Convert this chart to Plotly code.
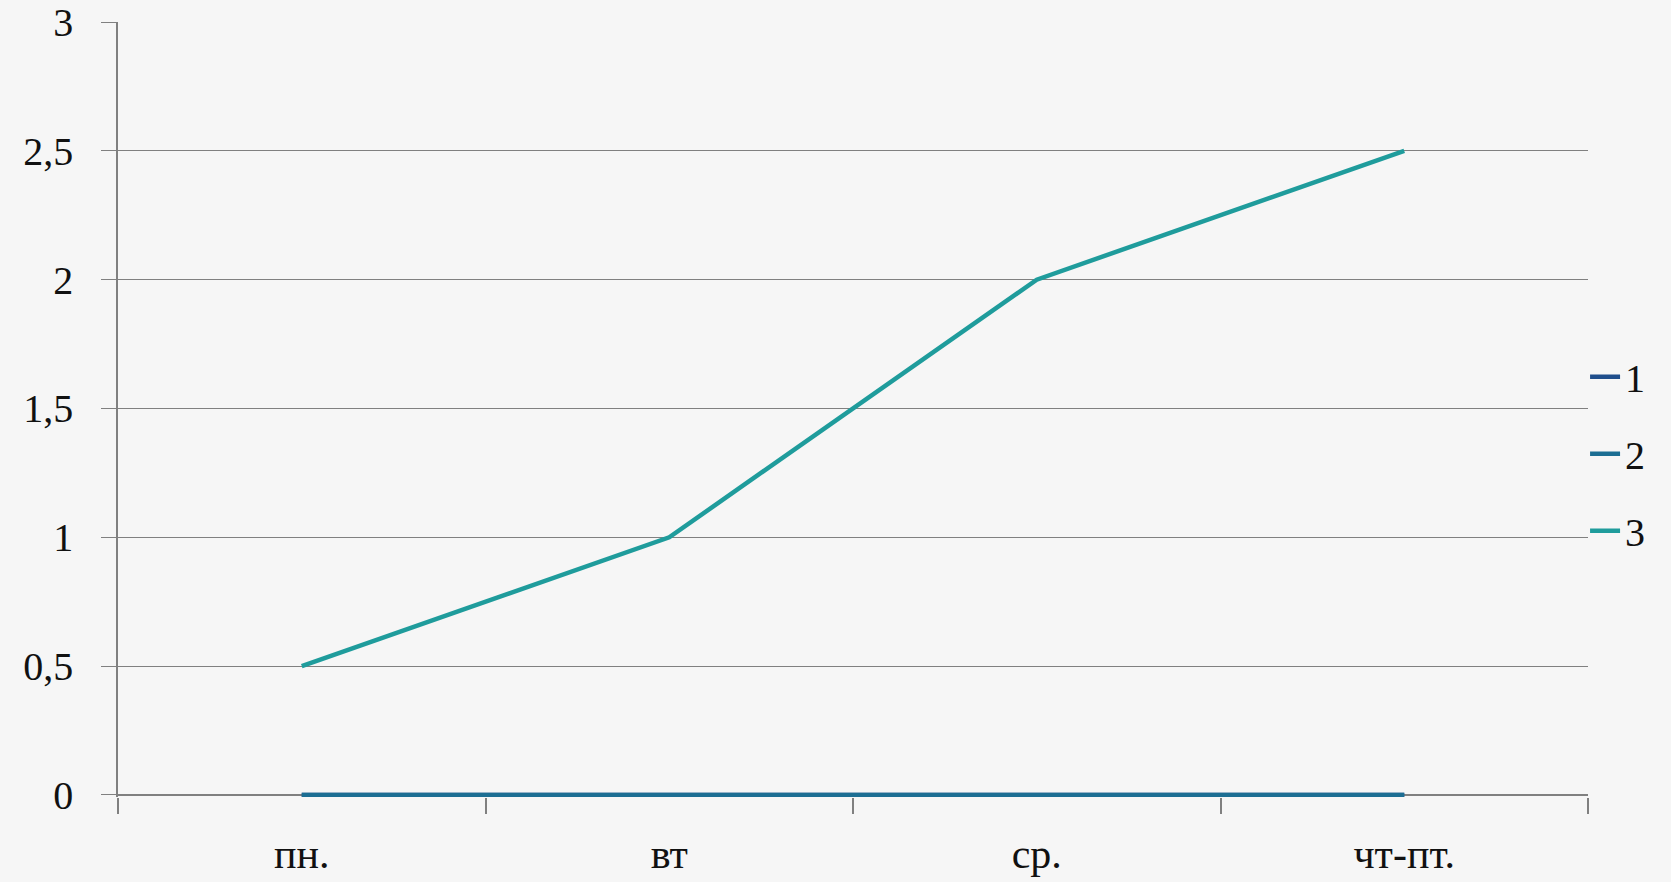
import plotly.graph_objects as go

categories = ["пн.", "вт", "ср.", "чт-пт."]
series_names = ["1", "2", "3"]
s1 = [0, 0, 0, 0]
s2 = [0, 0, 0, 0]
s3 = [0.5, 1, 2, 2.5]
ytick_vals = [0, 0.5, 1, 1.5, 2, 2.5, 3]
ytick_text = ["0", "0,5", "1", "1,5", "2", "2,5", "3"]

colors = ["#1F4E8C", "#1C6E93", "#1F9C9C"]
FONT = "Liberation Serif"
BG = "#F6F6F6"

fig = go.Figure()
for i, (name, vals) in enumerate(zip(series_names, [s1, s2, s3])):
    fig.add_trace(go.Scatter(
        x=categories, y=vals, name=name, mode="lines",
        line=dict(color=colors[i], width=4.5),
        legendgroup=name,
        cliponaxis=False,
    ))

fig.update_layout(
    width=1671, height=882,
    margin=dict(l=118, r=83, t=22, b=85, autoexpand=False),
    paper_bgcolor=BG,
    plot_bgcolor=BG,
    font=dict(family=FONT, color="#111111", size=40),
    showlegend=True,
    legend=dict(
        x=0.998, xanchor="left", y=0.443, yanchor="middle",
        font=dict(size=40, family=FONT),
        bgcolor="rgba(0,0,0,0)",
        traceorder="grouped",
        tracegroupgap=22,
        itemwidth=30,
    ),
    xaxis=dict(
        type="category",
        range=[-0.5, 3.5],
        automargin=False,
        showgrid=False,
        showline=False,
        zeroline=False,
        ticks="outside",
        tickson="boundaries",
        ticklen=16,
        tickwidth=1.5,
        tickcolor="#808080",
        tickfont=dict(size=42, family=FONT),
        ticklabelstandoff=28,
    ),
    yaxis=dict(
        range=[-0.008, 3],
        automargin=False,
        tickvals=ytick_vals,
        ticktext=ytick_text,
        showgrid=True,
        gridcolor="#808080",
        gridwidth=1.2,
        showline=True,
        linecolor="#808080",
        linewidth=1.5,
        zeroline=True,
        zerolinecolor="#808080",
        zerolinewidth=1.5,
        ticks="outside",
        ticklen=15,
        tickwidth=1.2,
        tickcolor="#808080",
        tickfont=dict(size=40, family=FONT),
        ticklabelstandoff=20,
    ),
)

fig.write_html(
    "out.html",
    config={"displayModeBar": False},
    post_script="document.body.style.margin='0';document.body.style.background='%s';" % BG,
)
